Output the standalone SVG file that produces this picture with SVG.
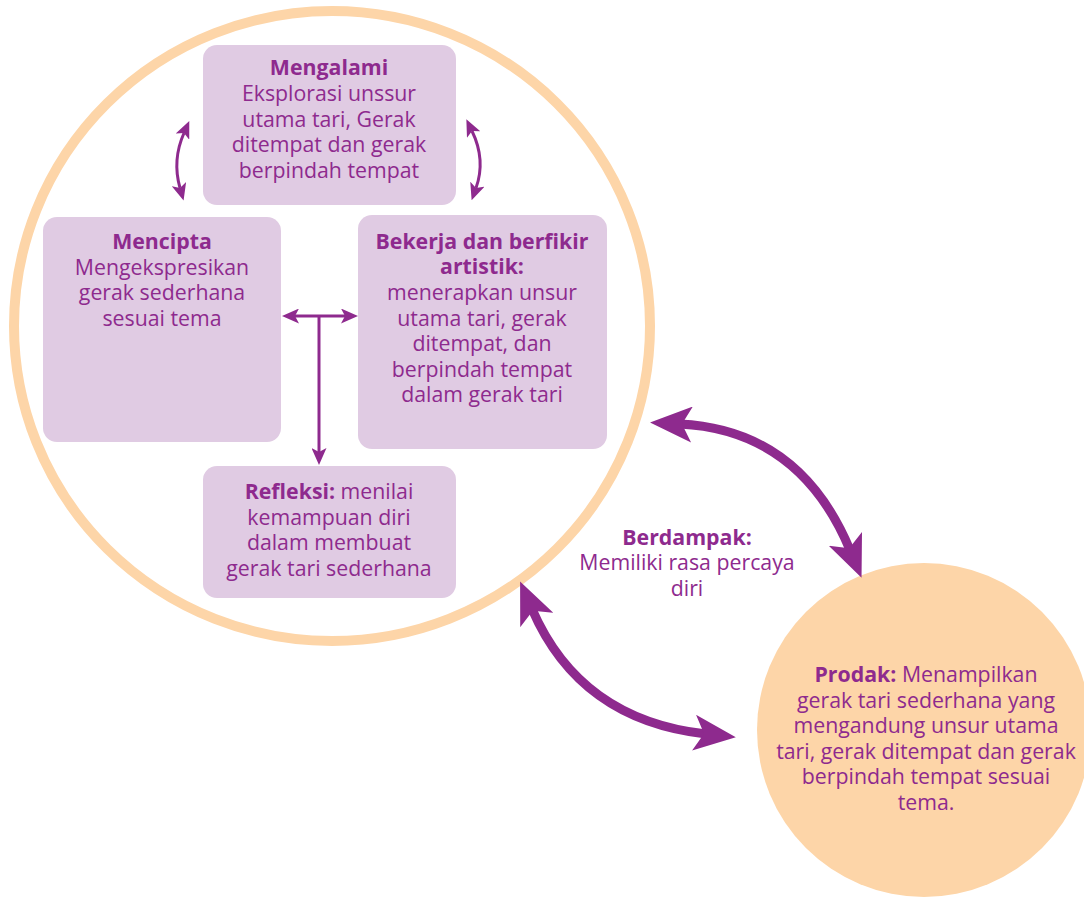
<svg xmlns="http://www.w3.org/2000/svg" width="1084" height="897" viewBox="0 0 1084 897">
<style>
.box{fill:#E0CBE3}
.t{font-family:"Open Sans","Noto Sans",sans-serif;font-size:21.3px;fill:#8E2A8E;text-anchor:middle}
.b{font-weight:bold}
.thin{fill:none;stroke:#8E2A8E;stroke-width:3}
.thick{fill:none;stroke:#8E2A8E;stroke-width:9}
</style>
<defs>
<marker id="ah" markerUnits="userSpaceOnUse" viewBox="0 0 17 15" refX="4" refY="7.5" markerWidth="17" markerHeight="15" orient="auto-start-reverse">
<path d="M0,0 L17,7.5 L0,15 L4,7.5 Z" fill="#8E2A8E"/>
</marker>
<marker id="AH" markerUnits="userSpaceOnUse" viewBox="0 0 42 36" refX="12" refY="18" markerWidth="42" markerHeight="36" orient="auto-start-reverse">
<path d="M0,0 L42,18 L0,36 L10,18 Z" fill="#8E2A8E"/>
</marker>
</defs>
<rect width="1084" height="897" fill="#fff"/>
<g id="outer-circle"><ellipse cx="332" cy="326" rx="318" ry="315" fill="none" stroke="#FDD5A8" stroke-width="10"/></g>
<g id="prodak">
<circle cx="924" cy="730" r="167" fill="#FDD5A8"/>
<text class="t" x="926" y="682"><tspan class="b">Prodak:</tspan> Menampilkan</text>
<text class="t" x="926" y="708">gerak tari sederhana yang</text>
<text class="t" x="926" y="733">mengandung unsur utama</text>
<text class="t" x="926" y="759">tari, gerak ditempat dan gerak</text>
<text class="t" x="926" y="784">berpindah tempat sesuai</text>
<text class="t" x="926" y="810">tema.</text>
</g>
<g id="mengalami">
<rect class="box" x="203" y="45" width="253" height="160" rx="14"/>
<text class="t b" x="329" y="75">Mengalami</text>
<text class="t" x="329" y="101">Eksplorasi unssur</text>
<text class="t" x="329" y="127">utama tari, Gerak</text>
<text class="t" x="329" y="152">ditempat dan gerak</text>
<text class="t" x="329" y="178">berpindah tempat</text>
</g>
<g id="mencipta">
<rect class="box" x="43" y="217" width="238" height="225" rx="14"/>
<text class="t b" x="162" y="249">Mencipta</text>
<text class="t" x="162" y="275">Mengekspresikan</text>
<text class="t" x="162" y="300">gerak sederhana</text>
<text class="t" x="162" y="326">sesuai tema</text>
</g>
<g id="bekerja">
<rect class="box" x="358" y="215" width="249" height="234" rx="14"/>
<text class="t b" x="482" y="249">Bekerja dan berfikir</text>
<text class="t b" x="482" y="274">artistik:</text>
<text class="t" x="482" y="300">menerapkan unsur</text>
<text class="t" x="482" y="326">utama tari, gerak</text>
<text class="t" x="482" y="351">ditempat, dan</text>
<text class="t" x="482" y="377">berpindah tempat</text>
<text class="t" x="482" y="402">dalam gerak tari</text>
</g>
<g id="refleksi">
<rect class="box" x="203" y="466" width="253" height="132" rx="14"/>
<text class="t" x="329" y="499"><tspan class="b">Refleksi:</tspan> menilai</text>
<text class="t" x="329" y="525">kemampuan diri</text>
<text class="t" x="329" y="550">dalam membuat</text>
<text class="t" x="329" y="576">gerak tari sederhana</text>
</g>
<g id="berdampak">
<text class="t b" x="687" y="545">Berdampak:</text>
<text class="t" x="687" y="570">Memiliki rasa percaya</text>
<text class="t" x="687" y="596">diri</text>
</g>
<g id="connectors">
<path class="thin" d="M184,133 Q172,160 180,188" marker-start="url(#ah)" marker-end="url(#ah)"/>
<path class="thin" d="M472,131 Q486,160 476,188" marker-start="url(#ah)" marker-end="url(#ah)"/>
<path class="thin" d="M295,316 L345,316" marker-start="url(#ah)" marker-end="url(#ah)"/>
<path class="thin" d="M319,316 L319,452" marker-end="url(#ah)"/>
<path class="thick" d="M680,424 Q800,430 850,550" marker-start="url(#AH)" marker-end="url(#AH)"/>
<path class="thick" d="M532,609 Q580,720 706,734" marker-start="url(#AH)" marker-end="url(#AH)"/>
</g>
</svg>
